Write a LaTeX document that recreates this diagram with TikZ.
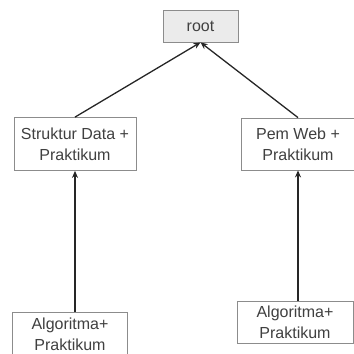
\documentclass[tikz,border=0pt]{standalone}
\usepackage{fontspec}
\setmainfont{Liberation Sans}
\usetikzlibrary{arrows.meta}
\begin{document}
\begin{tikzpicture}[x=1pt,y=-1pt,
  box/.style={draw=black!45, line width=0.8pt, fill=white, text=black!75,
    align=center, inner sep=0pt, font=\fontsize{16}{21}\selectfont},
  link/.style={draw=black!85, line width=1.3pt, -{Stealth[length=7pt,width=6pt]}}]
\useasboundingbox (0,0) rectangle (354,354);
\begin{scope}
\clip (0,0) rectangle (354,354);
\node[box, fill=black!8, minimum width=75pt, minimum height=32pt] (root) at (200.5,26) {root};
\node[box, minimum width=122pt, minimum height=53pt] (sd) at (75,144) {Struktur Data +\\Praktikum};
\node[box, minimum width=114pt, minimum height=52pt] (pw) at (298,144) {Pem Web +\\Praktikum};
\node[box, minimum width=115pt, minimum height=44pt] (alg1) at (70,334) {Algoritma+\\Praktikum};
\node[box, minimum width=116pt, minimum height=42pt] (alg2) at (295,322) {Algoritma+\\Praktikum};
\draw[link] (alg1.north -| sd.south) -- (sd.south);
\draw[link] (alg2.north -| pw.south) -- (pw.south);
\draw[link] (sd.north) -- (root.south);
\draw[link] (pw.north) -- (root.south);
\end{scope}
\end{tikzpicture}
\end{document}
